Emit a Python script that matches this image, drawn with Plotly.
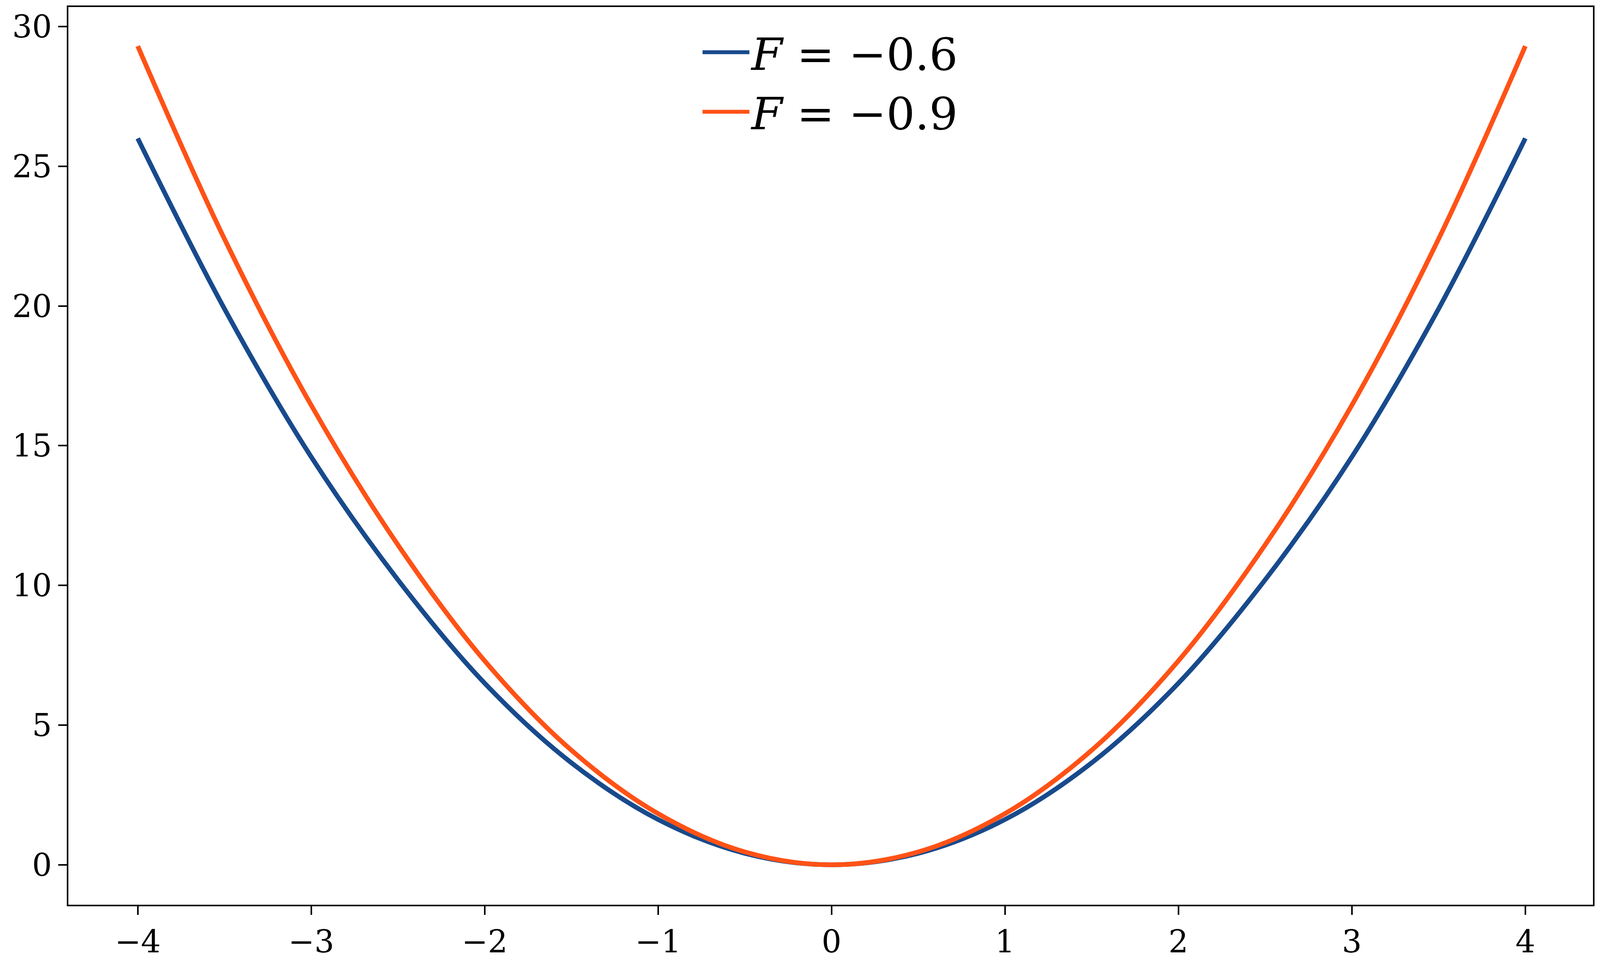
import plotly.graph_objects as go

# values
x_vals = [-4, -3.5, -3, -2.5, -2, -1.5, -1, -0.5, 0, 0.5, 1, 1.5, 2, 2.5, 3, 3.5, 4]
y_f06 = [26.0, 19.9, 14.6, 10.2, 6.5, 3.65, 1.62, 0.41, 0.0, 0.41, 1.62, 3.65, 6.5, 10.2, 14.6, 19.9, 26.0]
y_f09 = [29.3, 22.4, 16.45, 11.45, 7.3, 4.1, 1.83, 0.46, 0.0, 0.46, 1.83, 4.1, 7.3, 11.45, 16.45, 22.4, 29.3]
names = ["<i>F</i> = \u22120.6", "<i>F</i> = \u22120.9"]
colors = ["#184a8c", "#ff5216"]

fig = go.Figure()
for ys, name, col in zip([y_f06, y_f09], names, colors):
    fig.add_trace(go.Scatter(x=x_vals, y=ys, name=name, mode="lines",
                             line=dict(color=col, width=12, shape="spline", smoothing=1.0)))

axis_common = dict(showgrid=False, zeroline=False, showline=True, mirror=True,
                   linecolor="black", linewidth=4, ticks="outside", ticklen=22,
                   tickwidth=4, tickcolor="black",
                   tickfont=dict(family="DejaVu Serif", size=80, color="black"))
fig.update_xaxes(range=[-4.4, 4.39], tickvals=list(range(-4, 5)),
                 ticktext=[str(v).replace("-", "\u2212") for v in range(-4, 5)], **axis_common)
fig.update_yaxes(range=[-1.43, 30.7], tickvals=[0, 5, 10, 15, 20, 25, 30], **axis_common)

fig.update_layout(
    autosize=True,
    margin=dict(l=167, r=10, t=6, b=144),
    plot_bgcolor="white", paper_bgcolor="white",
    legend=dict(x=0.5, y=0.985, xanchor="center", yanchor="top",
                font=dict(family="DejaVu Serif", size=115, color="black"),
                itemwidth=120, tracegroupgap=10, bgcolor="rgba(0,0,0,0)"),
)
fig.write_html("out.html", default_width="100%", default_height="100vh",
               config={"responsive": True})
